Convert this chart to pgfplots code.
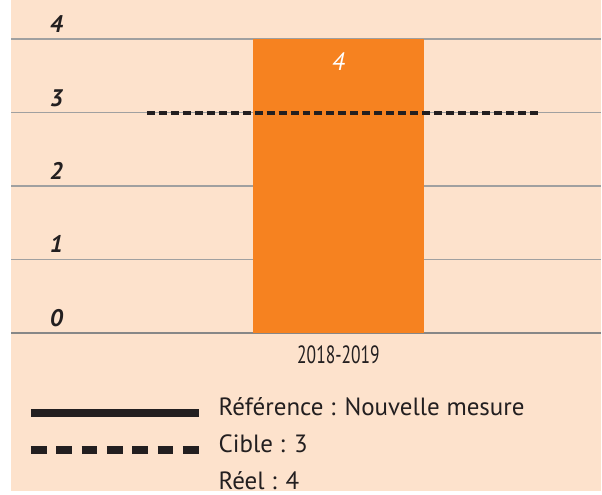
\documentclass[border=0pt]{standalone}
\usepackage{fontspec}
\setmainfont{PT Sans}
\newfontfamily\narrowfont[FakeStretch=0.7]{PT Sans}
\usepackage{pgfplots}
\pgfplotsset{compat=1.18}
\definecolor{peach}{RGB}{253,226,204}
\definecolor{barorange}{RGB}{246,130,32}
\definecolor{dark}{RGB}{35,31,32}
\definecolor{gridgray}{RGB}{160,160,160}
\definecolor{zerogray}{RGB}{135,135,135}
\begin{document}
\begin{tikzpicture}
\begin{axis}[
  scale only axis, width=295.5pt, height=246pt,
  xmin=11, xmax=602, ymin=-2.1633, ymax=4.5306,
  axis line style={draw=none},
  axis background/.style={fill=peach},
  major tick length=0pt,
  ytick={0,1,2,3,4},
  ymajorgrids, grid style={gridgray, line width=0.65pt},
  extra y ticks={0}, extra y tick labels={},
  extra y tick style={grid style={zerogray, line width=1pt}},
  yticklabel style={anchor=base, xshift=22.75pt, yshift=3.25pt,
    font=\bfseries\itshape\fontsize{12}{13}\selectfont, text=dark},
  xtick={339}, xticklabels={2018-2019},
  xticklabel style={anchor=base, yshift=64pt,
    font=\narrowfont\fontsize{12.5}{14}\selectfont, text=dark},
  /pgf/number format/assume math mode=true,
  clip=false,
  legend cell align=left,
  legend style={draw=none, fill=none, at={(axis cs:27,-1.544)}, anchor=west,
    inner sep=0pt, outer sep=0pt, row sep=7pt, column sep=8pt,
    font=\fontsize{12.5}{14}\selectfont, text=dark,
    nodes={inner sep=0pt, text height=9pt, text depth=2.5pt}},
]
\addplot[ybar, bar width=172, fill=barorange, draw=none, forget plot,
  nodes near coords,
  every node near coord/.append style={yshift=-16pt, inner sep=0pt, text=white,
    font=\itshape\fontsize{12.5}{14}\selectfont}]
  coordinates {(339,4)};
\addplot[dark, line width=2pt, dash pattern=on 4pt off 2pt, forget plot]
  coordinates {(147,3) (540,3)};
\addlegendimage{legend image code/.code={\draw[dark, line width=4pt] (0pt,-2.25pt) -- (84pt,-2.25pt);}}
\addlegendentry{Référence : Nouvelle mesure}
\addlegendimage{legend image code/.code={\draw[dark, line width=4pt, dash pattern=on 7.85pt off 4.84pt] (0pt,-2.25pt) -- (84pt,-2.25pt);}}
\addlegendentry{Cible : 3}
\addlegendimage{empty legend}
\addlegendentry{Réel : 4}
\end{axis}
\fill[white] (-5.5pt,0pt) rectangle (0pt,246pt);
\end{tikzpicture}
\end{document}
